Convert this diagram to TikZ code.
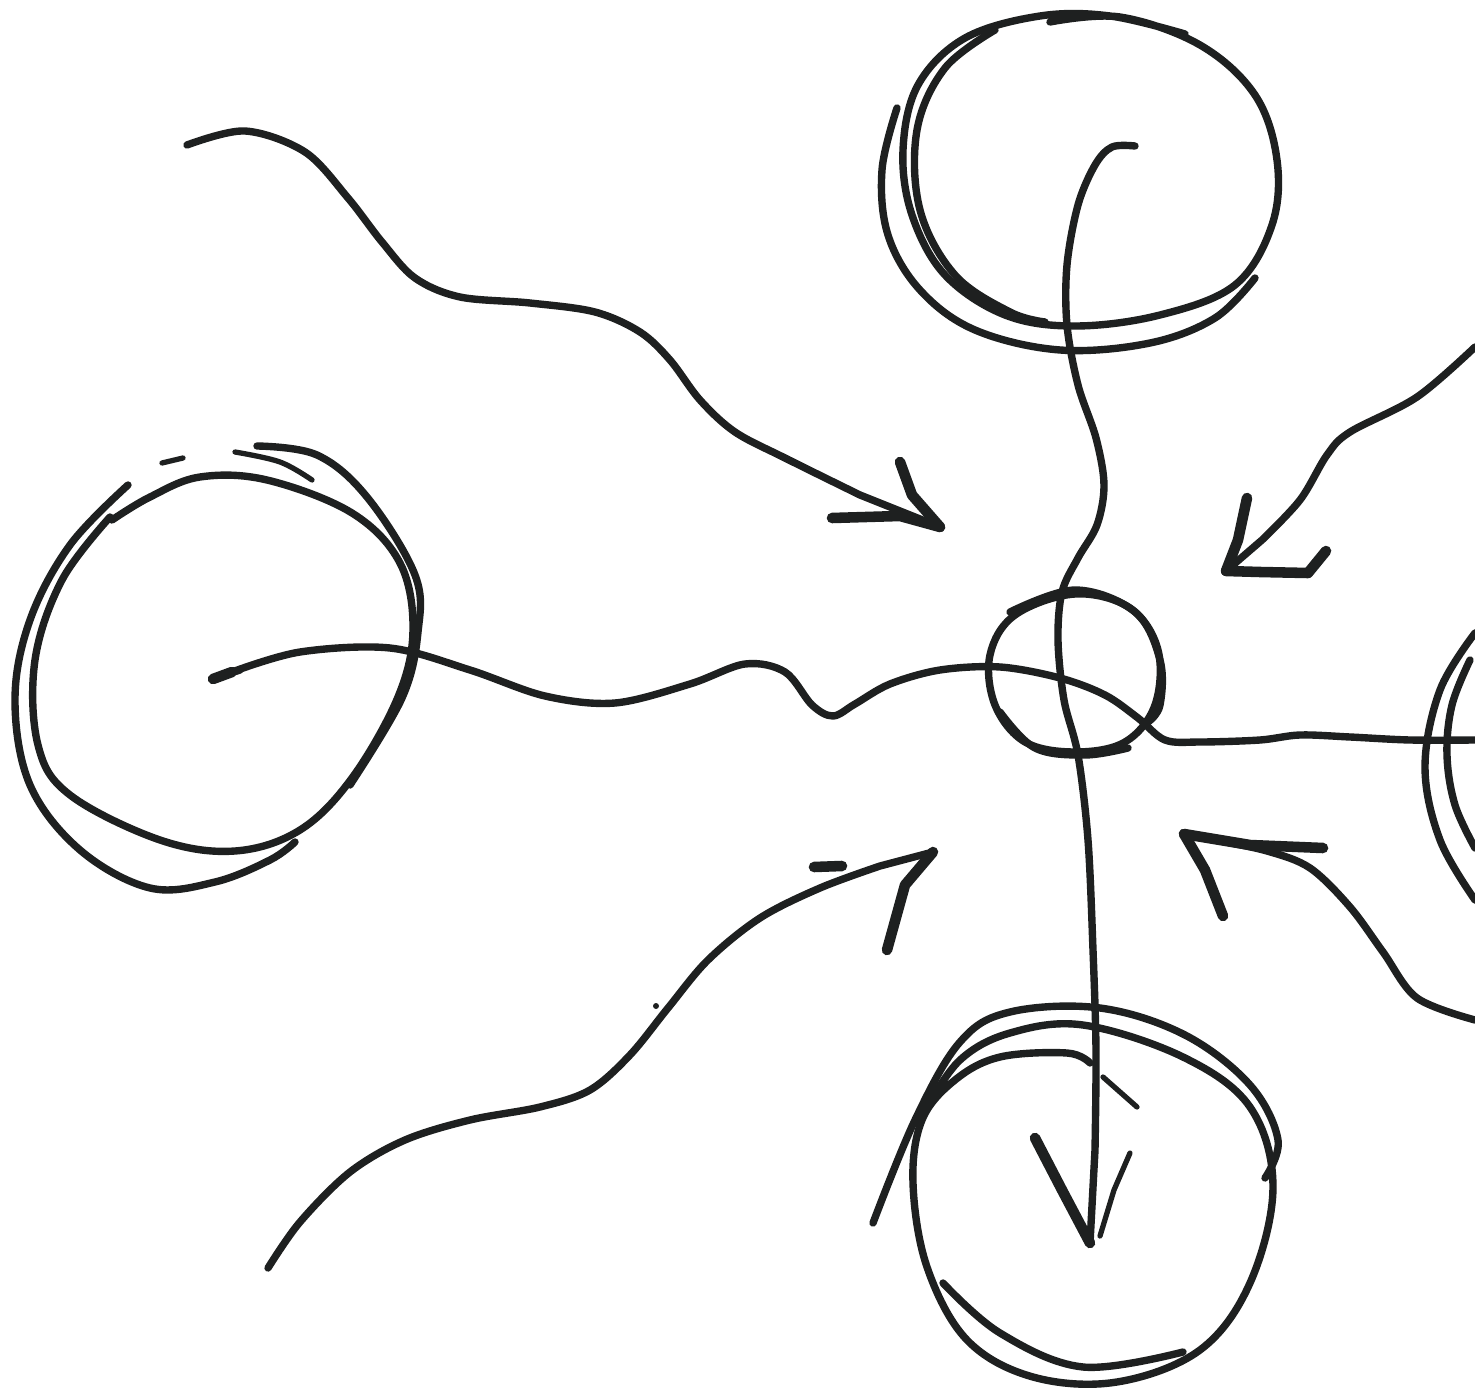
\documentclass[tikz,border=0pt]{standalone}
\definecolor{inkc}{RGB}{30,32,32}
\begin{document}
\begin{tikzpicture}[x=0.01cm,y=-0.01cm,
  ink/.style={draw=inkc, line width=2.1pt, line cap=round, line join=round},
  thinink/.style={ink, line width=1.5pt},
  heavy/.style={ink, line width=3pt}]
\useasboundingbox[fill=white] (0,0) rectangle (1475,1394);

% ---------- top circle ----------
\draw[ink] plot[smooth, tension=0.6] coordinates {(1185,34) (1110,16) (1040,16) (965,38) (918,85) (903,150) (912,215) (945,275) (1005,315) (1075,326) (1160,315) (1235,285) (1272,225) (1277,160) (1255,95) (1200,45) (1120,17) (1050,22)};
\draw[ink] plot[smooth, tension=0.6] coordinates {(995,30) (945,68) (917,130) (920,210) (955,275) (1010,312) (1045,322)};
\draw[ink] plot[smooth, tension=0.6] coordinates {(897,108) (882,170) (888,235) (920,290) (975,330) (1060,350) (1150,343) (1215,318) (1255,278)};

% ---------- left circle ----------
\draw[ink] plot[smooth, tension=0.6] coordinates {(128,485) (70,545) (30,620) (15,700) (30,785) (80,850) (150,888) (215,882) (270,860) (295,842)};
\draw[ink] plot[smooth, tension=0.6] coordinates {(110,517) (62,580) (35,660) (38,745) (70,795) (160,840) (235,851) (300,830) (352,778) (398,697) (413,630) (400,563) (352,513) (267,480) (200,477) (150,497) (112,520)};
\draw[ink] plot[smooth, tension=0.6] coordinates {(257,446) (317,455) (367,497) (415,575) (418,632) (402,698) (350,785)};
\draw[thinink] plot[smooth, tension=0.6] coordinates {(235,452) (280,462) (312,480)};
\draw[thinink] (162,463) -- (183,458);

% ---------- right circle (cut by the edge) ----------
\draw[ink] plot[smooth, tension=0.6] coordinates {(1475,633) (1440,690) (1425,767) (1440,840) (1475,900)};
\draw[ink] plot[smooth, tension=0.6] coordinates {(1470,660) (1452,705) (1447,755) (1455,805) (1475,848)};

% ---------- bottom circle ----------
\draw[ink] plot[smooth, tension=0.6] coordinates {(873,1223) (915,1120) (960,1042) (1010,1012) (1100,1008) (1185,1035) (1250,1085) (1278,1140) (1265,1178)};
\draw[ink] plot[smooth, tension=0.6] coordinates {(925,1110) (960,1060) (1010,1033) (1083,1025) (1183,1057) (1250,1107) (1273,1187) (1250,1283) (1200,1350) (1117,1382) (1033,1377) (967,1340) (927,1267) (913,1183) (922,1120) (955,1080) (1000,1057) (1067,1053) (1090,1063)};
\draw[thinink] (1103,1077) -- (1137,1107);
\draw[ink] plot[smooth, tension=0.6] coordinates {(943,1283) (1000,1333) (1083,1367) (1183,1352)};

% ---------- centre circle ----------
\draw[ink] plot[smooth cycle, tension=0.6] coordinates {(1075,594) (1130,608) (1158,650) (1155,705) (1125,742) (1075,752) (1025,742) (995,705) (990,655) (1015,615)};
\draw[ink] plot[smooth, tension=0.6] coordinates {(1010,612) (1075,590) (1135,612) (1160,660) (1160,705) (1148,722)};
\draw[ink] plot[smooth, tension=0.6] coordinates {(1000,712) (1035,748) (1085,755) (1128,748)};

% ---------- named end points ----------
\coordinate (tlTip) at (940,527);
\coordinate (trTip) at (1226,571);
\coordinate (blTip) at (933,852);
\coordinate (brTip) at (1184,834);
\coordinate (downTip) at (1090,1243);

% ---------- long vertical line from top circle to bottom arrow ----------
\draw[ink] plot[smooth, tension=0.55] coordinates {(1135,146) (1112,147) (1095,165) (1078,205) (1067,265) (1067,325) (1078,385) (1096,438) (1104,485) (1097,525) (1078,558) (1062,592) (1058,640) (1064,700) (1078,755) (1088,840) (1093,950) (1096,1050) (1095,1150)} -- (downTip);
\draw[heavy] (1035,1138) -- (1062,1190) -- (downTip);
\draw[thinink] (1130,1153) -- (1114,1190) -- (1100,1236);

% ---------- wavy horizontal line ----------
\draw[ink] (215,678) -- (240,670);
\draw[heavy] (213,679) -- (232,672);
\draw[ink] plot[smooth, tension=0.55] coordinates {(232,672) (300,652) (390,648) (470,670) (545,696) (615,703) (690,684) (745,664) (785,672) (812,705) (833,716) (855,704) (890,684) (940,670) (1000,667) (1060,678) (1105,695) (1138,718) (1165,740) (1200,742) (1260,740) (1300,735) (1350,737) (1410,740) (1475,740)};

% ---------- top-left arrow ----------
\draw[ink] plot[smooth, tension=0.55] coordinates {(187,145) (245,131) (305,152) (348,198) (382,242) (415,278) (460,297) (530,303) (595,312) (640,332) (670,360) (700,400) (735,432) (785,458) (860,495)} -- (tlTip);
\draw[heavy] (900,462) -- (912,495) -- (tlTip);
\draw[heavy] (832,518) -- (900,516) -- (tlTip);

% ---------- top-right arrow ----------
\draw[ink] plot[smooth, tension=0.55] coordinates {(1475,347) (1417,397) (1350,432) (1327,455) (1300,500) (1262,540)} -- (trTip);
\draw[heavy] (1247,498) -- (1238,540) -- (trTip);
\draw[heavy] (trTip) -- (1260,572) -- (1308,573) -- (1326,551);

% ---------- bottom-left arrow ----------
\draw[ink] plot[smooth, tension=0.55] coordinates {(268,1268) (300,1222) (350,1172) (405,1140) (470,1120) (540,1107) (590,1090) (630,1055) (668,1008) (708,960) (760,918) (820,888) (880,866)} -- (blTip);
\draw[heavy] (blTip) -- (905,885) -- (887,950);
\draw[heavy] (814,867) -- (842,866);
\fill[inkc] (656,1006) circle (3);

% ---------- bottom-right arrow ----------
\draw[ink] plot[smooth, tension=0.55] coordinates {(1475,1020) (1417,998) (1383,952) (1350,907) (1310,868) (1267,851) (1215,840)} -- (brTip);
\draw[heavy] (brTip) -- (1205,870) -- (1223,916);
\draw[heavy] (brTip) -- (1250,845) -- (1323,848);
\end{tikzpicture}
\end{document}
